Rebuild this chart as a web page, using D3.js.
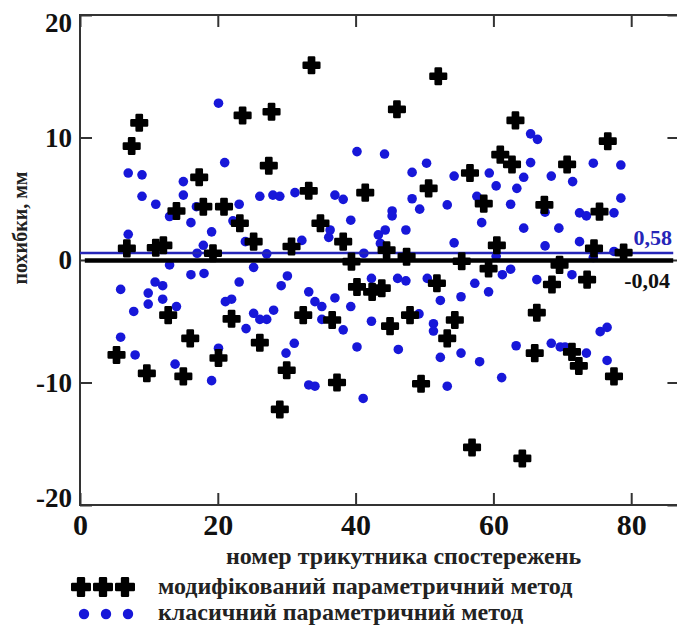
<!DOCTYPE html>
<html>
<head>
<meta charset="utf-8">
<script src="https://cdn.jsdelivr.net/npm/d3@7"></script>
<style>
  body { margin: 0; background: #fff; }
  svg { display: block; }
  svg text { font-family: "Liberation Serif", "DejaVu Serif", serif; }
  .tick text { fill: #111; font-weight: bold; }
</style>
</head>
<body>
<div id="chart"></div>
<script>
// modified parametric method (black crosses)
const modX = [5.3, 6.8, 7.5, 8.6, 9.7, 11.0, 12.1, 12.8, 14.0, 15.0, 16.0, 17.3, 17.9, 19.3, 20.1, 20.9, 22.0, 23.2, 23.6, 25.2,
  26.1, 27.4, 27.8, 29.0, 30.0, 30.7, 32.4, 33.2, 33.6, 34.9, 36.6, 37.3, 38.2, 39.4, 40.2, 41.4, 42.4, 43.8, 44.5, 45.0,
  46.0, 47.4, 47.9, 49.5, 50.6, 51.8, 52.0, 53.3, 54.4, 55.4, 56.6, 56.9, 58.6, 59.3, 60.5, 61.0, 62.7, 63.2, 64.2, 66.0,
  66.3, 67.4, 68.5, 69.6, 70.7, 71.4, 72.4, 73.6, 74.6, 75.4, 76.6, 77.5, 78.9];
const modY = [-7.75, 0.95, 9.3, 11.2, -9.25, 1.0, 1.2, -4.5, 4.0, -9.5, -6.4, 6.75, 4.35, 0.55, -8.0, 4.35, -4.8, 3.0, 11.8, 1.5,
  -6.75, 7.7, 12.1, -12.2, -9.0, 1.1, -4.5, 5.65, 15.9, 3.0, -4.9, -10.0, 1.5, -0.13, -2.2, 5.5, -2.6, -2.3, 0.8, -5.4,
  12.3, 0.27, -4.5, -10.1, 5.85, -1.9, 15.0, -6.4, -4.9, -0.1, 7.1, -15.3, 4.6, -0.7, 1.2, 8.6, 7.8, 11.4, -16.2, -7.6,
  -4.3, 4.5, -2.0, -0.4, 7.8, -7.5, -8.65, -1.6, 0.95, 3.95, 9.7, -9.5, 0.6];

// classic parametric method (blue dots)
const clsX = [7.0, 9.0, 9.0, 11.0, 15.0, 15.0, 13.0, 16.1, 16.9, 19.1, 7.0, 17.9, 17.0, 20.1, 21.0, 23.1, 22.2, 24.0, 26.1, 28.0,
  29.0, 27.1, 31.2, 32.2, 36.1, 36.3, 37.0, 38.2, 39.3, 40.2, 41.2, 43.3, 43.6, 44.3, 44.2, 45.3, 45.3, 47.3, 48.2, 48.2,
  49.3, 50.3, 53.3, 54.3, 54.3, 57.6, 58.3, 59.4, 60.4, 60.4, 62.5, 63.4, 64.4, 64.4, 65.4, 65.4, 66.4, 67.5, 67.5, 68.4,
  69.5, 71.5, 72.5, 73.5, 72.5, 74.5, 74.5, 77.5, 77.5, 78.5, 78.5,
  13.0, 25.2, 5.9, 7.8, 9.9, 9.9, 10.9, 12.0, 12.0, 14.0, 16.1, 18.0, 21.1, 22.0, 23.1, 25.2, 26.1, 27.1, 28.1, 29.2,
  30.1, 33.2, 34.1, 35.1, 35.1, 37.0, 39.3, 38.2, 42.3, 46.1, 47.3, 50.4, 52.3, 55.3, 57.3, 59.3, 61.3, 62.5, 66.3, 71.4,
  42.3, 49.2, 51.3, 51.3, 24.1, 5.9, 8.0, 13.8, 20.1, 19.1, 29.9, 31.1, 33.2, 34.1, 40.2, 41.1, 46.2, 52.3, 53.3, 55.3,
  58.0, 61.2, 63.3, 68.4, 69.7, 70.4, 73.5, 75.5, 76.5, 76.5];
const clsY = [7.1, 6.95, 5.2, 4.55, 6.4, 5.3, 3.55, 3.05, 4.35, 2.3, 2.1, 1.2, 0.55, 12.8, 7.95, 4.55, 3.2, 1.5, 5.2, 5.3,
  5.2, 0.5, 5.5, 1.6, 1.85, 2.45, 5.3, 4.95, 3.25, 8.85, 0.55, 2.05, 1.35, 2.45, 8.65, 4.0, 3.6, 2.45, 7.15, 5.0,
  4.15, 7.9, 4.5, 6.85, 1.4, 5.2, 3.05, 7.1, 6.05, 0.3, 4.55, 5.85, 6.75, 2.6, 7.95, 10.3, 9.85, 1.15, 3.9, 6.85,
  2.6, 6.4, 3.85, 3.6, 1.5, 7.9, 0.2, 3.85, 0.7, 7.75, 5.05,
  -0.4, -0.6, -2.4, -4.2, -2.7, -3.6, -1.8, -2.1, -3.2, -3.8, -1.2, -1.1, -3.4, -3.2, -1.8, -4.35, -4.85, -4.85, -4.1, -2.1,
  -1.3, -2.6, -3.4, -3.8, -4.85, -3.1, -3.8, -5.7, -1.5, -1.5, -1.7, -1.5, -3.3, -3.0, -1.9, -2.6, -1.2, -0.75, -1.6, -1.2,
  -5.0, -4.4, -5.2, -5.8, -5.6, -6.3, -7.75, -8.5, -7.2, -9.85, -7.6, -6.8, -10.2, -10.3, -7.1, -11.3, -7.3, -7.95, -10.3, -7.6,
  -8.3, -9.6, -7.0, -6.8, -7.1, -7.1, -7.6, -5.85, -5.5, -8.2];

// mean lines
const meanValues = [0.58, -0.04];
const meanLabels = ["0,58", "-0,04"];

const xTicks = [0, 20, 40, 60, 80];
const yTicks = [-20, -10, 0, 10, 20];

const xTitle = "номер трикутника спостережень";
const yTitle = "похибки, мм";
const legendLabels = ["модифікований параметричний метод", "класичний параметричний метод"];

const width = 677;
const height = 628;
const margin = { left: 80, top: 15, bottom: 123 };
const serif = '"Liberation Serif", "DejaVu Serif", serif';
const blue = "#1717d9";
const lineBlue = "#2626b8";

/*******************************/
/*    Append the container     */
/*******************************/
const svg = d3.select("#chart")
  .append("svg")
    .attr("width", width)
    .attr("height", height);

/****************************/
/*    Declare the scales    */
/****************************/
const xScale = d3.scaleLinear()
  .domain([0, 87])
  .range([margin.left, margin.left + 87 * 6.89]);

const yScale = d3.scaleLinear()
  .domain([-20, 20])
  .range([height - margin.bottom, margin.top]);

const crossPath = d3.symbol(d3.symbolCross).size(135)();
const plainLabel = d => String(d);   // hyphen minus, as in the original

// frame
svg.append("rect")
  .attr("x", xScale(0))
  .attr("y", yScale(20))
  .attr("width", xScale(87) - xScale(0))
  .attr("height", yScale(-20) - yScale(20))
  .attr("fill", "none")
  .attr("stroke", "#333")
  .attr("stroke-width", 2);

/**********************/
/*    Draw the axes   */
/**********************/
const bottomAxis = d3.axisBottom(xScale).tickValues(xTicks).tickSize(-12).tickPadding(9).tickFormat(plainLabel);
const gx = svg.append("g")
  .attr("transform", `translate(0, ${yScale(-20)})`)
  .call(bottomAxis)
  .attr("font-family", serif);
gx.selectAll("text").style("font-size", "30px").style("font-family", serif);

const leftAxis = d3.axisLeft(yScale).tickValues(yTicks).tickSize(-12).tickPadding(8).tickFormat(plainLabel);
const gy = svg.append("g")
  .attr("transform", `translate(${xScale(0)}, 0)`)
  .call(leftAxis)
  .attr("font-family", serif);
gy.selectAll("text").style("font-size", "27px").style("font-family", serif)
  .attr("dy", d => d === 20 ? "0.62em" : d === -20 ? "0.05em" : "0.32em");

svg.append("g")
  .attr("transform", `translate(0, ${yScale(20)})`)
  .call(d3.axisTop(xScale).tickValues(xTicks).tickSize(-12).tickFormat(""));
svg.append("g")
  .attr("transform", `translate(${xScale(87)}, 0)`)
  .call(d3.axisRight(yScale).tickValues(yTicks).tickSize(-12).tickFormat(""));

svg.selectAll(".domain").remove();
svg.selectAll(".tick line").attr("stroke", "#333").attr("stroke-width", 2);

/*************************/
/*    Draw the points    */
/*************************/
svg.append("g")
  .selectAll("circle")
  .data(d3.range(clsX.length))
  .join("circle")
    .attr("cx", i => xScale(clsX[i]))
    .attr("cy", i => yScale(clsY[i]))
    .attr("r", 4.8)
    .attr("fill", blue);

// mean lines
svg.append("line")
  .attr("x1", xScale(0)).attr("x2", xScale(86.1))
  .attr("y1", yScale(meanValues[0])).attr("y2", yScale(meanValues[0]))
  .attr("stroke", lineBlue).attr("stroke-width", 2.5);

svg.append("line")
  .attr("x1", xScale(0.7)).attr("x2", xScale(86.1))
  .attr("y1", yScale(meanValues[1])).attr("y2", yScale(meanValues[1]))
  .attr("stroke", "#000").attr("stroke-width", 4.5);

svg.append("g")
  .selectAll("path")
  .data(d3.range(modX.length))
  .join("path")
    .attr("d", crossPath)
    .attr("transform", i => `translate(${xScale(modX[i])}, ${yScale(modY[i])})`)
    .attr("fill", "#000")
    .attr("stroke", "#000")
    .attr("stroke-width", 2.5)
    .attr("stroke-linejoin", "round");

// mean labels
svg.append("text")
  .text(meanLabels[0])
  .attr("x", 672)
  .attr("y", yScale(meanValues[0]) - 8)
  .attr("text-anchor", "end")
  .attr("fill", lineBlue)
  .style("font-family", serif)
  .style("font-size", "22px")
  .style("font-weight", "bold");

svg.append("text")
  .text(meanLabels[1])
  .attr("x", 670)
  .attr("y", yScale(meanValues[1]) + 28)
  .attr("text-anchor", "end")
  .attr("fill", "#111")
  .style("font-family", serif)
  .style("font-size", "22px")
  .style("font-weight", "bold");

/****************************/
/*    Axis titles, legend   */
/****************************/
svg.append("text")
  .text(xTitle)
  .attr("x", 226)
  .attr("y", 564)
  .attr("fill", "#222")
  .style("font-family", serif)
  .style("font-size", "24px")
  .style("font-weight", "bold");

svg.append("text")
  .text(yTitle)
  .attr("transform", `translate(27, 228) rotate(-90)`)
  .attr("text-anchor", "middle")
  .attr("fill", "#222")
  .style("font-family", serif)
  .style("font-size", "20px")
  .style("font-weight", "bold");

const legendMarkX = [81, 103, 125];

svg.append("g")
  .selectAll("path")
  .data(legendMarkX)
  .join("path")
    .attr("d", d3.symbol(d3.symbolCross).size(170)())
    .attr("transform", d => `translate(${d}, 587)`)
    .attr("fill", "#000")
    .attr("stroke", "#000")
    .attr("stroke-width", 2.5)
    .attr("stroke-linejoin", "round");

svg.append("g")
  .selectAll("circle")
  .data(legendMarkX)
  .join("circle")
    .attr("cx", d => d + 3)
    .attr("cy", 614)
    .attr("r", 5.2)
    .attr("fill", blue);

svg.selectAll(".legend-label")
  .data(legendLabels)
  .join("text")
    .attr("class", "legend-label")
    .text(d => d)
    .attr("x", 158)
    .attr("y", (d, i) => 594 + i * 26)
    .attr("fill", "#222")
    .style("font-family", serif)
    .style("font-size", "24px")
    .style("font-weight", "bold");
</script>
</body>
</html>
